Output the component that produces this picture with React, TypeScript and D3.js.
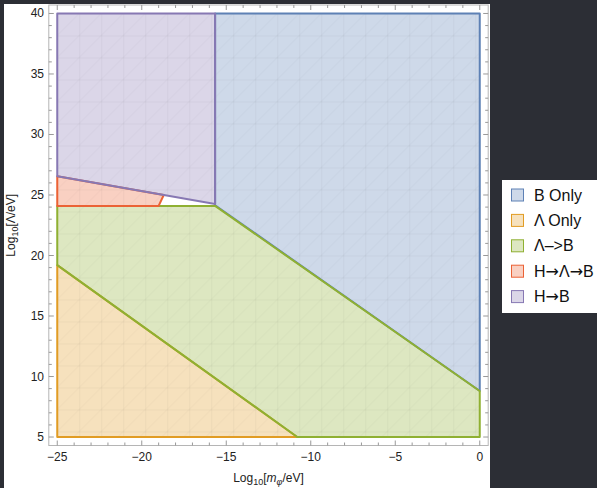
import React from 'react';
import * as d3 from 'd3';

// region boundaries, [log10 m_phi, log10 Lambda]
const bOnly: [number, number][] = [[-15.66, 40], [0, 40], [0, 8.8], [-15.66, 24.15]];
const lambdaOnly: [number, number][] = [[-25, 5], [-25, 19.2], [-10.8, 5]];
const lambdaToB: [number, number][] = [[-25, 19.2], [-25, 24.1], [-15.66, 24.1], [0, 8.8], [0, 5], [-10.8, 5]];
const hLambdaB: [number, number][] = [[-25, 24.1], [-19.0, 24.1], [-18.7, 25.0], [-25, 26.55]];
const hToB: [number, number][] = [[-25, 26.55], [-25, 40], [-15.66, 40], [-15.66, 24.25]];

const seriesNames = ['B Only', 'Λ Only', 'Λ–>B', 'H→Λ→B', 'H→B'];
const seriesColors = ['#5e81b5', '#e19c24', '#8fb032', '#eb6235', '#8778b3'];
const seriesData = [bOnly, lambdaOnly, lambdaToB, hLambdaB, hToB];

const xTicks = [-25, -20, -15, -10, -5, 0];
const yTicks = [5, 10, 15, 20, 25, 30, 35, 40];

const W = 597;
const H = 488;
const font = "'Liberation Sans', Arial, sans-serif";

// legend labels: arrows set in DejaVu so they come out full size
const legendLabel = (name: string) =>
  name.split(/(→)/).map((part, j) =>
    part === '→' ? (
      <tspan key={j} fontFamily="'DejaVu Sans'">→</tspan>
    ) : (
      <tspan key={j}>{part}</tspan>
    )
  );

const App = () => {
  const x = d3.scaleLinear().domain([-25.5, 0.5]).range([48.8, 488.2]);
  const y = d3.scaleLinear().domain([4.3, 40.7]).range([445.5, 5]);

  const line = d3
    .line<[number, number]>()
    .x(d => x(d[0]))
    .y(d => y(d[1]))
    .curve(d3.curveLinearClosed);

  const xMinor = d3.range(-25, 0.01, 1);
  const yMinor = d3.range(5, 40.01, 1);
  const [x0, x1] = x.range();
  const [y0, y1] = y.range();

  return (
    <svg
      width={W}
      height={H}
      style={{ position: 'absolute', left: 0, top: 0, fontFamily: font }}
    >
      <defs>
        <pattern id="mesh" width={22} height={22} patternUnits="userSpaceOnUse" x={x(-25)} y={y(40)}>
          <g stroke="#000" strokeOpacity={0.035} strokeWidth={1} fill="none">
            <line x1={0} y1={22} x2={22} y2={0} />
            <line x1={0.5} y1={0} x2={0.5} y2={22} />
            <line x1={0} y1={0.5} x2={22} y2={0.5} />
          </g>
        </pattern>
      </defs>
      <rect x={0} y={0} width={W} height={H} fill="#2c2e35" />
      <rect x={4} y={4} width={486} height={H - 4} fill="#ffffff" />

      {/* regions */}
      {seriesData.map((pts, i) => (
        <g key={i}>
          <path d={line(pts) || ''} fill={seriesColors[i]} fillOpacity={0.3} />
          <path d={line(pts) || ''} fill="url(#mesh)" />
          <path
            d={line(pts) || ''}
            fill="none"
            stroke={seriesColors[i]}
            strokeWidth={2}
            strokeLinejoin="round"
          />
        </g>
      ))}

      {/* frame */}
      <rect x={x0} y={y1} width={x1 - x0} height={y0 - y1} fill="none" stroke="#b5b5b5" strokeWidth={1} />

      {/* ticks on all four sides */}
      {xMinor.map(v => {
        const len = xTicks.includes(Math.round(v)) ? 5 : 3;
        return (
          <g key={'xt' + v} stroke="#999" strokeWidth={1}>
            <line x1={x(v)} x2={x(v)} y1={y0} y2={y0 - len} />
            <line x1={x(v)} x2={x(v)} y1={y1} y2={y1 + len} />
          </g>
        );
      })}
      {yMinor.map(v => {
        const len = yTicks.includes(Math.round(v)) ? 5 : 3;
        return (
          <g key={'yt' + v} stroke="#999" strokeWidth={1}>
            <line x1={x0} x2={x0 + len} y1={y(v)} y2={y(v)} />
            <line x1={x1} x2={x1 - len} y1={y(v)} y2={y(v)} />
          </g>
        );
      })}

      {xTicks.map(v => (
        <text key={'xl' + v} x={x(v)} y={461} textAnchor="middle" fontSize={12} fill="#222">
          {v < 0 ? '−' + Math.abs(v) : v}
        </text>
      ))}
      {yTicks.map(v => (
        <text key={'yl' + v} x={44} y={y(v) + 4} textAnchor="end" fontSize={12} fill="#222">
          {v}
        </text>
      ))}

      {/* axis titles */}
      <text x={(x(-25) + x(0)) / 2} y={482} textAnchor="middle" fontSize={12} fill="#222">
        Log<tspan dy={3} fontSize={9}>10</tspan>
        <tspan dy={-3}>[</tspan>
        <tspan fontStyle="italic">m</tspan>
        <tspan dy={3} fontSize={9} fontStyle="italic">φ</tspan>
        <tspan dy={-3}>/eV]</tspan>
      </text>
      <text
        transform={`translate(15, ${(y(40) + y(5)) / 2}) rotate(-90)`}
        textAnchor="middle"
        fontSize={12}
        fill="#222"
      >
        Log<tspan dy={3} fontSize={9}>10</tspan>
        <tspan dy={-3}>[Λ/eV]</tspan>
      </text>

      {/* legend */}
      <rect x={502} y={180} width={100} height={133} fill="#ffffff" />
      {seriesNames.map((name, i) => {
        const cy = 195 + i * 25.4;
        return (
          <g key={name}>
            <rect
              x={511.5}
              y={cy - 6}
              width={12}
              height={12}
              fill={seriesColors[i]}
              fillOpacity={0.3}
              stroke={seriesColors[i]}
              strokeWidth={1}
            />
            <text x={534} y={cy + 5.5} fontSize={16} fill="#111">
              {legendLabel(name)}
            </text>
          </g>
        );
      })}
    </svg>
  );
};

export default App;
